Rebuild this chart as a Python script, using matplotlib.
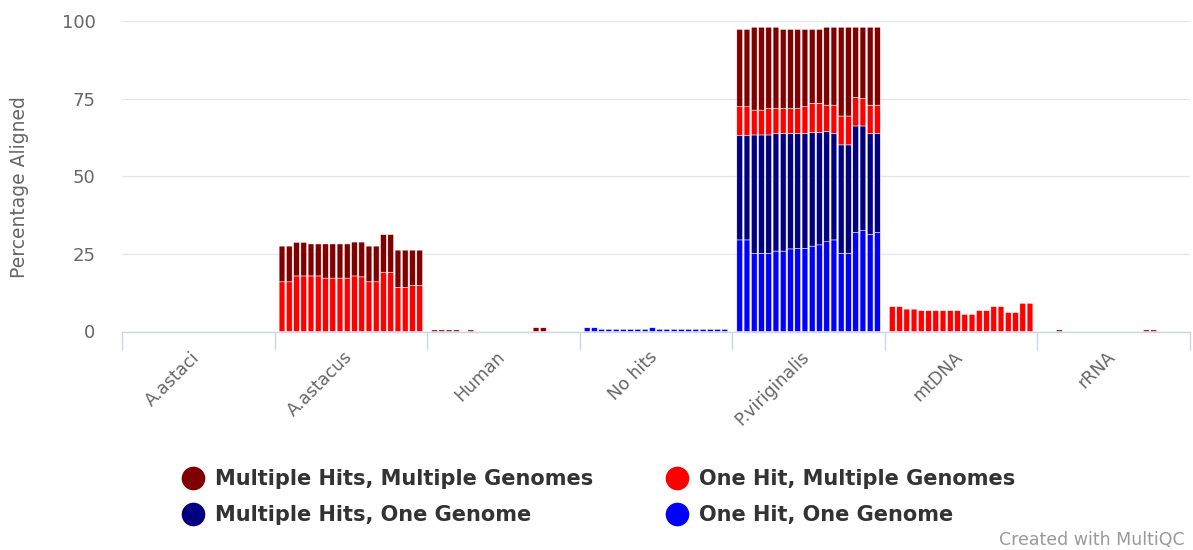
import matplotlib
matplotlib.use("Agg")
import matplotlib.pyplot as plt
from matplotlib.lines import Line2D
from matplotlib.transforms import ScaledTranslation
import numpy as np

categories = ["A.astaci", "A.astacus", "Human", "No hits", "P.viriginalis", "mtDNA", "rRNA"]
n_samples = 20

series_names = ["One Hit, One Genome", "Multiple Hits, One Genome",
                "One Hit, Multiple Genomes", "Multiple Hits, Multiple Genomes"]
series_colors = ["#0000ff", "#000080", "#ff0000", "#800000"]

zeros = [0.0] * 20

# ---- A.astacus ----
astacus_ohmg = [16.0, 16.0, 17.9, 17.9, 17.9, 17.9, 17.2, 17.2, 17.2, 17.2,
                17.9, 17.6, 16.0, 16.0, 19.1, 19.1, 14.2, 14.2, 14.8, 14.8]
astacus_mhmg = [11.5, 11.5, 10.8, 10.8, 10.3, 10.3, 11.0, 11.0, 11.0, 11.0,
                10.9, 11.2, 11.5, 11.5, 12.1, 12.1, 12.0, 12.0, 11.4, 11.4]

# ---- Human ----
human_mhmg = [0.5, 0.5, 0.5, 0.5, 0.0, 0.5, 0.0, 0.0, 0.0, 0.0,
              0.0, 0.0, 0.0, 0.0, 1.2, 1.2, 0.0, 0.0, 0.0, 0.0]

# ---- No hits ----
nohits_ohog = [1.2, 1.2, 0.7, 0.7, 0.7, 0.7, 0.7, 0.7, 0.7, 1.2,
               0.7, 0.7, 0.7, 0.7, 0.7, 0.7, 0.7, 0.7, 0.7, 0.7]

# ---- P.viriginalis ----
pvir_ohog = [29.5, 29.5, 25.2, 25.2, 25.2, 25.9, 25.9, 26.6, 26.8, 26.8,
             27.5, 27.9, 28.9, 29.5, 25.2, 25.2, 31.9, 32.5, 31.3, 31.9]
pvir_mhog = [33.6, 33.6, 38.1, 38.1, 38.1, 37.9, 37.9, 37.2, 37.0, 37.0,
             36.6, 36.2, 35.5, 34.3, 34.9, 34.9, 34.3, 33.7, 32.5, 31.9]
pvir_ohmg = [9.3, 9.3, 8.0, 8.0, 8.6, 8.1, 8.1, 8.1, 8.1, 8.6,
             9.4, 9.4, 8.5, 9.1, 9.3, 9.3, 9.2, 8.8, 9.1, 9.1]
pvir_mhmg = [24.9, 24.9, 26.7, 26.7, 26.1, 26.1, 25.4, 25.4, 25.4, 24.9,
             23.8, 23.8, 25.1, 25.1, 28.6, 28.6, 22.6, 23.0, 25.1, 25.1]

# ---- mtDNA ----
mtdna_ohmg = [8.0, 8.0, 7.2, 7.2, 6.7, 6.7, 6.7, 6.7, 6.7, 6.7,
              5.5, 5.5, 6.7, 6.7, 8.0, 8.0, 6.1, 6.1, 9.1, 9.1]

# ---- rRNA ----
rrna_mhmg = [0.0, 0.0, 0.5, 0.0, 0.0, 0.0, 0.0, 0.0, 0.0, 0.0,
             0.0, 0.0, 0.0, 0.0, 0.5, 0.5, 0.0, 0.0, 0.0, 0.0]

one_hit_one_genome = [zeros, zeros, zeros, nohits_ohog, pvir_ohog, zeros, zeros]
multi_hits_one_genome = [zeros, zeros, zeros, zeros, pvir_mhog, zeros, zeros]
one_hit_multi_genomes = [zeros, astacus_ohmg, zeros, zeros, pvir_ohmg, mtdna_ohmg, zeros]
multi_hits_multi_genomes = [zeros, astacus_mhmg, human_mhmg, zeros, pvir_mhmg, zeros, rrna_mhmg]

stack = [one_hit_one_genome, multi_hits_one_genome, one_hit_multi_genomes, multi_hits_multi_genomes]

W, H = 1193, 550
fig = plt.figure(figsize=(W / 100, H / 100), dpi=100)
left, right, top, bottom = 122, 1190, 21, 331.5
ax = fig.add_axes([left / W, 1 - bottom / H, (right - left) / W, (bottom - top) / H])

group_frac = 0.95
slot = group_frac / n_samples
for ci in range(len(categories)):
    xs = ci - group_frac / 2 + (np.arange(n_samples) + 0.5) * slot
    base = np.zeros(n_samples)
    for si, data in enumerate(stack):
        vals = np.array(data[ci], dtype=float)
        mask = vals > 0
        if mask.any():
            bars = ax.bar(xs[mask], vals[mask], width=slot * 0.8, bottom=base[mask],
                          color=series_colors[si], edgecolor="white", linewidth=0.35, zorder=3)
            for b in bars:
                b.set_snap(False)
        base += vals

ax.set_xlim(-0.5, len(categories) - 0.5)
ax.set_ylim(0, 100)
ax.set_yticks([0, 25, 50, 75, 100])
ax.yaxis.grid(True, color="#e6e6e6", linewidth=1, zorder=0)
ax.set_axisbelow(True)
for s in ["left", "right", "top"]:
    ax.spines[s].set_visible(False)
ax.spines["bottom"].set_color("#ccd6eb")
ax.spines["bottom"].set_linewidth(1)
ax.spines["bottom"].set_zorder(4)

ax.tick_params(axis="y", length=0, pad=19, labelsize=13, labelcolor="#666666")
ax.set_xticks(np.arange(len(categories)))
ax.set_xticklabels(categories, rotation=45, ha="right", rotation_mode="anchor",
                   fontsize=12.5, color="#666666")
ax.tick_params(axis="x", which="major", length=0, pad=12)
shift = ScaledTranslation(-8 / 100, 0, fig.dpi_scale_trans)
for lab in ax.get_xticklabels():
    lab.set_transform(lab.get_transform() + shift)
ax.set_xticks(np.arange(len(categories) + 1) - 0.5, minor=True)
ax.tick_params(axis="x", which="minor", length=13, color="#ccd6eb", width=1)

ax.set_ylabel("Percentage Aligned", fontsize=13.5, color="#666666")
ax.yaxis.set_label_coords(-0.087, 0.465)

handles = [Line2D([], [], marker="o", linestyle="none", markersize=16,
                  markerfacecolor=series_colors[i], markeredgecolor=series_colors[i])
           for i in [3, 1, 2, 0]]
labels = [series_names[i] for i in [3, 1, 2, 0]]
leg = fig.legend(handles, labels, ncol=2, loc="upper left",
                 bbox_to_anchor=(173 / W, 1 - 461 / H), frameon=False,
                 prop={"weight": "bold", "size": 15}, labelcolor="#333333",
                 handletextpad=0.5, columnspacing=3.5, labelspacing=0.75,
                 handlelength=1.1, borderaxespad=0)

fig.text(1185 / W, 1 - 545 / H, "Created with MultiQC", ha="right", va="baseline",
         fontsize=12.5, color="#999999")

fig.savefig("out.png", dpi=100)
